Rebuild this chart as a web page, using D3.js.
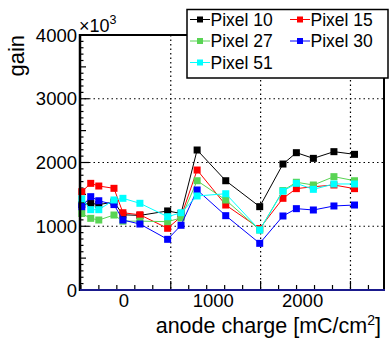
<!DOCTYPE html>
<html>
<head>
<meta charset="utf-8">
<script src="https://cdn.jsdelivr.net/npm/d3@7"></script>
<style>
  body { margin: 0; background: #fff; }
  text { font-family: "Liberation Sans", Arial, Helvetica, sans-serif; }
</style>
</head>
<body>
<div id="chart"></div>
<script>
// anode charge values (mC/cm2)
const charge = [-470, -370, -280, -110, -10, 180, 490, 640, 820, 1140, 1520, 1780, 1930, 2120, 2350, 2580];

// gain values (x10^3) per pixel
const pixel10 = [1340, 1360, 1340, 1380, 1180, 1170, 1240, 1200, 2196, 1714, 1307, 1976, 2154, 2065, 2170, 2128];
const pixel15 = [1542, 1673, 1631, 1595, 1212, 1180, 968, 1150, 1882, 1333, 965, 1438, 1590, 1620, 1647, 1590];
const pixel27 = [1200, 1124, 1098, 1176, 1080, 1080, 1072, 1130, 1714, 1412, 941, 1560, 1690, 1647, 1778, 1714];
const pixel30 = [1307, 1464, 1400, 1340, 1098, 1035, 795, 1015, 1569, 1166, 732, 1161, 1276, 1255, 1318, 1333];
const pixel51 = [1430, 1260, 1260, 1412, 1438, 1360, 1150, 1212, 1475, 1510, 941, 1550, 1673, 1579, 1663, 1663];

const seriesNames = ["Pixel 10", "Pixel 15", "Pixel 27", "Pixel 30", "Pixel 51"];
const seriesColors = ["#000000", "#ff0000", "#59d454", "#0000ff", "#00ffff"];
const seriesValues = [pixel10, pixel15, pixel27, pixel30, pixel51];

// axis ticks
const xLabelTicks = [0, 1000, 2000];
const xGridTicks = [525, 1530, 2535];
const yMajorTicks = [0, 1000, 2000, 3000, 4000];
const yGridTicks = [1000, 2000, 3000];

const svg = d3.select("#chart")
    .append("svg")
    .attr("width", 389)
    .attr("height", 341);

const x = d3.scaleLinear().domain([-490, 2910]).range([80, 384]);
const y = d3.scaleLinear().domain([0, 4000]).range([290, 35]);

// grid
svg.append("g").selectAll("line")
    .data(yGridTicks)
    .join("line")
    .attr("x1", 80).attr("x2", 384)
    .attr("y1", d => y(d)).attr("y2", d => y(d))
    .style("stroke", "#000").style("stroke-width", 1.2).style("stroke-dasharray", "1.5,3");
svg.append("g").selectAll("line")
    .data(xGridTicks)
    .join("line")
    .attr("x1", d => x(d)).attr("x2", d => x(d))
    .attr("y1", 35).attr("y2", 290)
    .style("stroke", "#000").style("stroke-width", 1.2).style("stroke-dasharray", "1.5,3");

// y ticks (minor every 100, half every 500)
const yMinor = d3.range(0, 4001, 100);
svg.append("g").selectAll("line")
    .data(yMinor)
    .join("line")
    .attr("x1", 80)
    .attr("x2", d => 80 + (d % 1000 === 0 ? 9 : d % 500 === 0 ? 6 : 3.5))
    .attr("y1", d => y(d)).attr("y2", d => y(d))
    .style("stroke", "#000").style("stroke-width", 1.2);

// x ticks
const xMinor = d3.range(525 - 5 * 201, 2910, 201);
svg.append("g").selectAll("line")
    .data(xMinor)
    .join("line")
    .attr("x1", d => x(d)).attr("x2", d => x(d))
    .attr("y1", 290)
    .attr("y2", d => xGridTicks.some(g => Math.abs(g - d) < 10) ? 281 : 285)
    .style("stroke", "#000").style("stroke-width", 1.2);

// y tick labels
svg.append("g").selectAll("text")
    .data(yMajorTicks)
    .join("text")
    .attr("x", 77)
    .attr("y", d => y(d) + 6.5)
    .attr("text-anchor", "end")
    .style("font-size", "18.5px")
    .text(d => d);

// x tick labels
svg.append("g").selectAll("text")
    .data(xLabelTicks)
    .join("text")
    .attr("x", d => x(d))
    .attr("y", 306.5)
    .attr("text-anchor", "middle")
    .style("font-size", "18.5px")
    .text(d => d);

// series lines and markers
seriesValues.forEach(function (vals, i) {
    const pts = charge.map((c, j) => [c, vals[j]]);
    svg.append("path")
        .datum(pts)
        .attr("d", d3.line().x(d => x(d[0])).y(d => y(d[1])))
        .style("fill", "none")
        .style("stroke", seriesColors[i])
        .style("stroke-width", 1);
    svg.append("g").selectAll("rect")
        .data(pts)
        .join("rect")
        .attr("x", d => x(d[0]) - 3.5)
        .attr("y", d => y(d[1]) - 3.5)
        .attr("width", 7).attr("height", 7)
        .style("fill", seriesColors[i]);
});

// frame
svg.append("line").attr("x1", 80).attr("x2", 80).attr("y1", 34).attr("y2", 291)
    .style("stroke", "#000").style("stroke-width", 2.5);
svg.append("line").attr("x1", 79).attr("x2", 385).attr("y1", 35).attr("y2", 35)
    .style("stroke", "#000").style("stroke-width", 2);
svg.append("line").attr("x1", 384).attr("x2", 384).attr("y1", 34).attr("y2", 291)
    .style("stroke", "#000").style("stroke-width", 2);
svg.append("line").attr("x1", 80).attr("x2", 385).attr("y1", 290).attr("y2", 290)
    .style("stroke", "#1a1a8c").style("stroke-width", 2);

// axis titles
svg.append("text")
    .attr("transform", "translate(24, 35) rotate(-90)")
    .attr("text-anchor", "end")
    .style("font-size", "22px")
    .text("gain");
const multi = svg.append("text").attr("x", 79).attr("y", 32).style("font-size", "18px");
multi.append("tspan").text("\u00d710");
multi.append("tspan").attr("dy", -8).style("font-size", "12.5px").text("3");

const xt = svg.append("text")
    .attr("x", 381).attr("y", 333)
    .attr("text-anchor", "end")
    .style("font-size", "21.5px");
xt.append("tspan").text("anode charge [mC/cm");
xt.append("tspan").attr("dy", -8).style("font-size", "14px").text("2");
xt.append("tspan").attr("dy", 8).text("]");

// legend
svg.append("rect")
    .attr("x", 187).attr("y", 9.5).attr("width", 201).attr("height", 68.5)
    .style("fill", "#fff").style("stroke", "#000").style("stroke-width", 1.5);
const legendPos = [[200, 19.5], [300, 19.5], [200, 41], [300, 41], [200, 62.5]];
seriesNames.forEach(function (name, i) {
    const [lx, ly] = legendPos[i];
    svg.append("line").attr("x1", lx - 10).attr("x2", lx + 10).attr("y1", ly).attr("y2", ly)
        .style("stroke", seriesColors[i]).style("stroke-width", 1);
    svg.append("rect").attr("x", lx - 3).attr("y", ly - 3).attr("width", 6).attr("height", 6)
        .style("fill", seriesColors[i]);
    svg.append("text").attr("x", lx + 10.5).attr("y", ly + 6)
        .style("font-size", "17.5px").text(name);
});
</script>
</body>
</html>
